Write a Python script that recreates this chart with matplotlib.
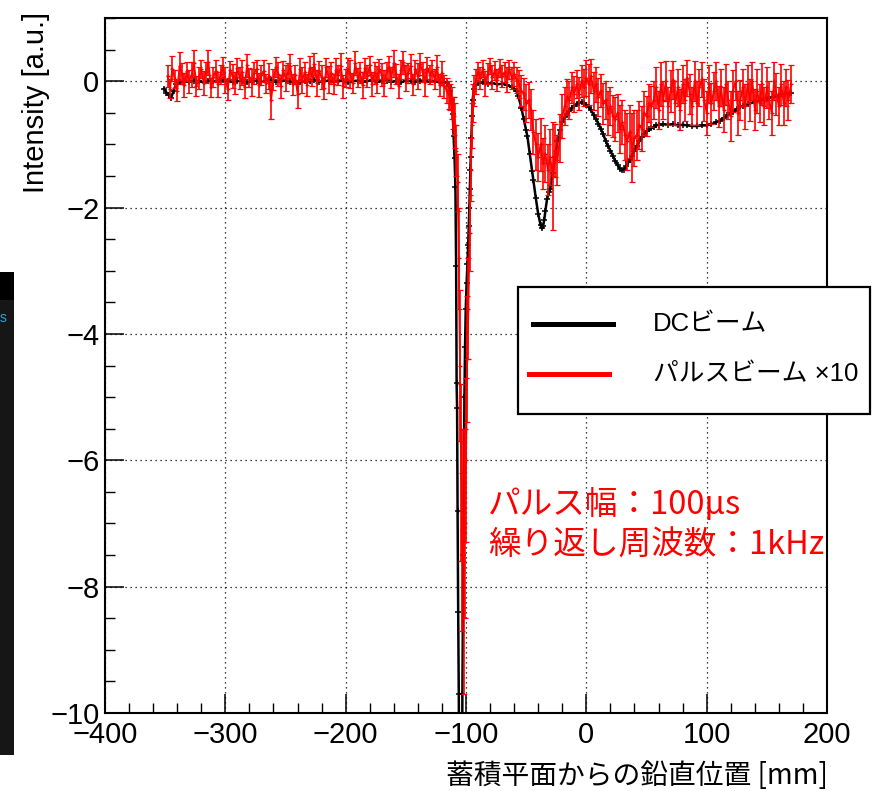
import numpy as np
import matplotlib
matplotlib.use("Agg")
import matplotlib.pyplot as plt
from matplotlib.patches import Rectangle
from matplotlib.lines import Line2D
from matplotlib.ticker import MultipleLocator

plt.rcParams['font.family'] = ['Liberation Sans', 'Noto Sans CJK JP', 'DejaVu Sans']
JP = ['Noto Sans CJK JP', 'DejaVu Sans']
MIXED = ['Liberation Sans', 'Noto Sans CJK JP', 'DejaVu Sans']

# ---------------- DC beam (black) ----------------
dc_x_start = [-351, -349, -347, -345, -343, -341, -338]
dc_y_start = [-0.12, -0.18, -0.22, -0.26, -0.15, -0.05, -0.02]

dc_x_flat = np.arange(-334, -117, 4)
dc_y_flat = [0.0, -0.01, 0.01, 0.0, -0.02, 0.01, 0.0, -0.01, 0.02, 0.0,
             -0.01, 0.0, 0.01, -0.02, 0.0, 0.01, -0.01, 0.0, 0.02, -0.01,
             0.0, 0.01, -0.01, 0.0, -0.02, 0.01, 0.0, 0.02, -0.01, 0.0,
             0.01, -0.01, 0.0, 0.01, -0.02, 0.0, 0.01, -0.01, 0.0, 0.02,
             -0.01, 0.0, 0.01, -0.01, 0.0, -0.02, 0.01, 0.0, -0.01, 0.01,
             0.0, -0.01, 0.0, -0.02, -0.02]

dc_x_dip = [-116, -114, -113, -112, -111, -110.3, -109.5, -108.8, -108.2, -107.8,
            -107.4, -107, -106.5, -106, -105.3, -104.5, -103.5, -103, -102.3, -101.8,
            -101.3, -100.8, -100.2, -99.5, -98.8, -98.2, -97.7, -97.2, -96.8, -96.4,
            -96, -95.5, -95, -94.5, -93.5, -92]
dc_y_dip = [-0.03, -0.08, -0.15, -0.3, -0.52, -0.87, -1.22, -1.68, -2.93, -4.78,
            -5.17, -6.8, -8.4, -9.7, -12.5, -15.0, -12.0, -9.7, -7.5, -6.2,
            -5.0, -4.2, -3.6, -3.2, -2.9, -2.6, -2.3, -2.0, -1.7, -1.4,
            -1.2, -0.9, -0.55, -0.3, -0.12, -0.05]

dc_x_rest = [-90, -86, -82, -78, -74, -70, -66, -62, -60, -58,
             -56.5, -54, -52, -50, -49, -47, -45, -44, -42, -40,
             -38, -37, -36, -35, -34, -32.7, -31, -30, -28, -26,
             -24, -22, -20, -18, -16, -14, -12, -10, -8, -6,
             -4, -2, 0, 2, 4, 6, 8, 10, 12, 14,
             16, 18, 20, 22, 24, 26, 28, 29.5, 31, 33,
             35, 36.6, 38, 40, 42, 44, 46, 48, 50, 52,
             54, 56, 58, 60, 64, 68, 72, 76, 80, 84,
             88, 92, 96, 100, 104, 108, 111, 114, 117, 120,
             122, 125, 128, 130, 134, 140, 145, 150, 155, 160,
             165, 170]
dc_y_rest = [-0.03, -0.02, -0.04, -0.03, -0.05, -0.04, -0.06, -0.09, -0.12, -0.16,
             -0.24, -0.42, -0.6, -0.78, -0.87, -1.15, -1.42, -1.56, -1.85, -2.1,
             -2.28, -2.33, -2.3, -2.2, -2.05, -1.87, -1.75, -1.71, -1.45, -1.2,
             -0.95, -0.78, -0.65, -0.57, -0.52, -0.47, -0.42, -0.39, -0.36, -0.34,
             -0.33, -0.34, -0.37, -0.41, -0.46, -0.53, -0.6, -0.67, -0.75, -0.84,
             -0.94, -1.03, -1.1, -1.18, -1.26, -1.33, -1.39, -1.41, -1.4, -1.35,
             -1.28, -1.24, -1.18, -1.1, -1.02, -0.95, -0.88, -0.83, -0.79, -0.76,
             -0.74, -0.73, -0.7, -0.69, -0.68, -0.69, -0.68, -0.7, -0.69, -0.7,
             -0.71, -0.71, -0.7, -0.7, -0.68, -0.65, -0.63, -0.58, -0.54, -0.5,
             -0.49, -0.44, -0.4, -0.39, -0.36, -0.33, -0.3, -0.28, -0.25, -0.23,
             -0.2, -0.18]

# ---------------- Pulsed beam x10 (red) ----------------
pulse_x_left = np.arange(-348, -113, 2)
pulse_y_left = [0.08, -0.12, 0.20, 0.03, -0.15, 0.24, 0.12, -0.06, 0.16, 0.00,
                0.10, 0.28, -0.08, 0.05, 0.19, -0.03, 0.14, 0.30, -0.10, 0.06,
                0.16, -0.05, 0.11, 0.22, 0.02, -0.13, 0.18, 0.08, -0.03, 0.21,
                0.05, 0.14, -0.10, 0.25, 0.06, -0.02, 0.13, 0.19, -0.06, 0.10,
                0.16, -0.03, 0.08, -0.30, 0.03, 0.22, 0.11, -0.08, 0.18, 0.05,
                0.13, 0.24, -0.05, 0.10, -0.20, 0.19, 0.02, 0.14, -0.06, 0.21,
                0.08, 0.27, -0.03, 0.16, 0.06, -0.11, 0.22, 0.03, 0.13, -0.05,
                0.18, 0.10, 0.24, -0.08, 0.05, 0.19, 0.11, -0.03, 0.28, 0.06,
                0.14, -0.06, 0.21, 0.08, 0.25, -0.05, 0.13, 0.03, 0.19, 0.10,
                -0.03, 0.16, 0.22, 0.06, 0.28, 0.11, -0.08, 0.18, 0.30, 0.05,
                0.13, 0.24, -0.05, 0.19, 0.08, 0.27, 0.14, -0.02, 0.21, 0.10,
                0.16, 0.03, 0.22, -0.06, 0.13, -0.08, -0.15, -0.22]
pulse_e_left = [0.18, 0.15, 0.20, 0.14, 0.17, 0.22, 0.16, 0.19, 0.15, 0.18,
                0.20, 0.22, 0.16, 0.18, 0.14, 0.19, 0.17, 0.20, 0.15, 0.16,
                0.18, 0.20, 0.15, 0.17, 0.21, 0.16, 0.14, 0.19, 0.18, 0.15,
                0.17, 0.20, 0.16, 0.18, 0.15, 0.22, 0.17, 0.14, 0.19, 0.16,
                0.18, 0.15, 0.20, 0.30, 0.17, 0.16, 0.19, 0.18, 0.14, 0.20,
                0.16, 0.19, 0.17, 0.15, 0.22, 0.18, 0.20, 0.16, 0.17, 0.19,
                0.15, 0.18, 0.20, 0.16, 0.19, 0.17, 0.15, 0.21, 0.18, 0.16,
                0.19, 0.16, 0.20, 0.18, 0.15, 0.17, 0.22, 0.16, 0.19, 0.15,
                0.17, 0.20, 0.16, 0.18, 0.15, 0.19, 0.17, 0.21, 0.16, 0.18,
                0.20, 0.15, 0.18, 0.17, 0.21, 0.16, 0.19, 0.15, 0.18, 0.20,
                0.16, 0.19, 0.17, 0.15, 0.20, 0.18, 0.16, 0.21, 0.17, 0.15,
                0.18, 0.16, 0.20, 0.17, 0.19, 0.18, 0.20, 0.22]

pulse_x_dip = np.arange(-113, -92, 1)
pulse_y_dip = [-0.25, -0.35, -0.5, -0.55, -0.7, -1.1, -1.6, -2.8, -4.5, -6.2,
               -7.1, -7.6, -7.0, -6.0, -4.4, -3.6, -2.4, -1.4, -0.7, -0.35, -0.15]
pulse_e_dip = [0.2, 0.25, 0.25, 0.3, 0.35, 0.4, 0.45, 0.8, 1.2, 1.4,
               1.6, 2.1, 1.5, 1.3, 1.0, 0.8, 0.6, 0.5, 0.35, 0.3, 0.25]

pulse_x_right = np.arange(-92, 171, 2)
pulse_y_right = [0.0, 0.15, 0.05, 0.2, -0.04, 0.12, 0.24, 0.06, 0.17, 0.02,
                 0.21, 0.08, 0.14, 0.03, 0.19, 0.05, 0.11, 0.02, -0.05, -0.15,
                 -0.2, -0.35, -0.3, -0.45, -0.8, -1.0, -1.2, -1.0, -1.3, -1.15,
                 -1.4, -1.2, -1.5, -1.1, -1.25, -0.9, -0.55, -0.4, -0.25, -0.3,
                 -0.1, -0.2, -0.05, -0.2, 0.0, -0.1, 0.05, -0.05, 0.08, -0.15,
                 -0.05, -0.25, -0.15, -0.35, -0.3, -0.5, -0.4, -0.55, -0.6, -0.5,
                 -0.75, -0.65, -0.85, -0.95, -0.8, -1.05, -0.9, -0.85, -0.7, -0.75,
                 -0.5, -0.55, -0.35, -0.4, -0.3, -0.1, -0.45, -0.05, -0.3, 0.0,
                 -0.4, -0.15, 0.02, -0.35, -0.1, -0.45, -0.05, -0.3, 0.05, -0.2,
                 -0.4, 0.0, -0.35, -0.1, 0.03, -0.3, -0.5, -0.05, -0.35, -0.15,
                 0.0, -0.4, -0.1, -0.45, -0.05, -0.3, -0.55, -0.15, 0.0, -0.5,
                 -0.3, -0.1, -0.4, -0.05, -0.3, 0.0, -0.45, -0.15, -0.35, -0.05,
                 -0.4, -0.1, -0.3, -0.5, 0.0, -0.2, -0.4, -0.05, -0.35, -0.1,
                 -0.3, -0.05]
pulse_e_right = [0.2, 0.15, 0.18, 0.14, 0.2, 0.16, 0.13, 0.19, 0.15, 0.17,
                 0.14, 0.18, 0.16, 0.2, 0.15, 0.17, 0.19, 0.2, 0.22, 0.25,
                 0.25, 0.3, 0.28, 0.32, 0.35, 0.4, 0.38, 0.42, 0.4, 0.45,
                 0.4, 0.45, 0.85, 0.42, 0.4, 0.38, 0.35, 0.3, 0.28, 0.3,
                 0.25, 0.28, 0.22, 0.26, 0.25, 0.3, 0.28, 0.32, 0.27, 0.3,
                 0.28, 0.3, 0.26, 0.32, 0.3, 0.35, 0.3, 0.33, 0.35, 0.3,
                 0.38, 0.35, 0.4, 0.45, 0.42, 0.55, 0.45, 0.4, 0.38, 0.35,
                 0.35, 0.32, 0.3, 0.33, 0.3, 0.32, 0.3, 0.35, 0.3, 0.32,
                 0.3, 0.33, 0.3, 0.35, 0.3, 0.32, 0.3, 0.33, 0.28, 0.32,
                 0.3, 0.32, 0.35, 0.3, 0.28, 0.33, 0.35, 0.3, 0.32, 0.3,
                 0.3, 0.33, 0.3, 0.35, 0.32, 0.3, 0.4, 0.33, 0.3, 0.35,
                 0.32, 0.3, 0.35, 0.3, 0.33, 0.3, 0.32, 0.35, 0.3, 0.33,
                 0.3, 0.32, 0.3, 0.35, 0.3, 0.33, 0.3, 0.32, 0.35, 0.3,
                 0.32, 0.3]

x_ticks = [-400, -300, -200, -100, 0, 100, 200]
y_ticks = [-10, -8, -6, -4, -2, 0]

legend_labels = ["DCビーム", "パルスビーム ×10"]
note_lines = ["パルス幅：100μs", "繰り返し周波数：1kHz"]
x_label = "蓄積平面からの鉛直位置 [mm]"
y_label = "Intensity [a.u.]"

dc_x = np.concatenate([dc_x_start, dc_x_flat, dc_x_dip, dc_x_rest])
dc_y = np.concatenate([dc_y_start, dc_y_flat, dc_y_dip, dc_y_rest])
pulse_x = np.concatenate([pulse_x_left, pulse_x_dip, pulse_x_right])
pulse_y = np.concatenate([pulse_y_left, pulse_y_dip, pulse_y_right])
pulse_e = np.concatenate([pulse_e_left, pulse_e_dip, pulse_e_right])

W, H = 873, 791
fig = plt.figure(figsize=(W / 100, H / 100), dpi=100)
fig.patch.set_facecolor('white')


def fx(px):
    return px / W


def fy(py):
    return 1 - py / H


ax = fig.add_axes([fx(105), fy(713), fx(827) - fx(105), fy(18) - fy(713)])
ax.set_xlim(-400, 200)
ax.set_ylim(-10, 1)

ax.plot(dc_x, dc_y, color='black', lw=1.8, marker='+', ms=4, mew=1.1, zorder=3)
ax.errorbar(pulse_x, pulse_y, yerr=pulse_e, color='#ff0000', lw=1.3,
            elinewidth=1.2, capsize=2.4, capthick=1.0, marker='+', ms=3, mew=0.9,
            zorder=4)

ax.set_xticks(x_ticks)
ax.set_yticks(y_ticks)
ax.xaxis.set_minor_locator(MultipleLocator(20))
ax.yaxis.set_minor_locator(MultipleLocator(0.5))
ax.tick_params(which='major', direction='in', length=14, width=1.1,
               labelsize=21, top=False, right=False)
ax.tick_params(axis='y', which='major', pad=4)
ax.tick_params(axis='x', which='major', pad=6)
ax.tick_params(which='minor', direction='in', length=7, width=1.0,
               top=False, right=False)
ax.grid(True, which='major', linestyle=(0, (1, 3)), color='black', lw=0.9)
for s in ax.spines.values():
    s.set_linewidth(1.5)

fig.text(fx(36), fy(12), y_label, rotation=90, ha='center', va='top', fontsize=21)
fig.text(fx(828), fy(784), x_label, ha='right', va='baseline', fontsize=20,
         family=JP)

# annotation in red
ax.text(-82, -6.7, note_lines[0], color='#ff0000', fontsize=23.5, family=JP,
        ha='left', va='center')
ax.text(-82, -7.35, note_lines[1], color='#ff0000', fontsize=23.5, family=JP,
        ha='left', va='center')

# legend box
fig.add_artist(Rectangle((fx(518), fy(414)), fx(870) - fx(518), fy(287) - fy(414),
                         transform=fig.transFigure, facecolor='white',
                         edgecolor='black', lw=1.6, zorder=10))
fig.add_artist(Line2D([fx(533), fx(613)], [fy(324), fy(324)], color='black',
                      lw=3.6, transform=fig.transFigure, zorder=11))
fig.add_artist(Line2D([fx(529), fx(609)], [fy(374), fy(374)], color='#ff0000',
                      lw=3.6, transform=fig.transFigure, zorder=11))
fig.text(fx(653), fy(324), legend_labels[0], fontsize=18.5, family=MIXED,
         ha='left', va='center', zorder=12)
fig.text(fx(653), fy(374), legend_labels[1], fontsize=18.5, family=MIXED,
         ha='left', va='center', zorder=12)

# dark side panel at the left edge
fig.add_artist(Rectangle((0, fy(755)), fx(14), fy(300) - fy(755),
                         transform=fig.transFigure, facecolor='#161616',
                         edgecolor='none', zorder=1))
fig.add_artist(Rectangle((0, fy(300)), fx(14), fy(272) - fy(300),
                         transform=fig.transFigure, facecolor='#000000',
                         edgecolor='none', zorder=1))
fig.text(fx(0), fy(318), "s", color='#2aa8e0', fontsize=10, ha='left',
         va='center', zorder=2)

fig.savefig("out.png", dpi=100)
